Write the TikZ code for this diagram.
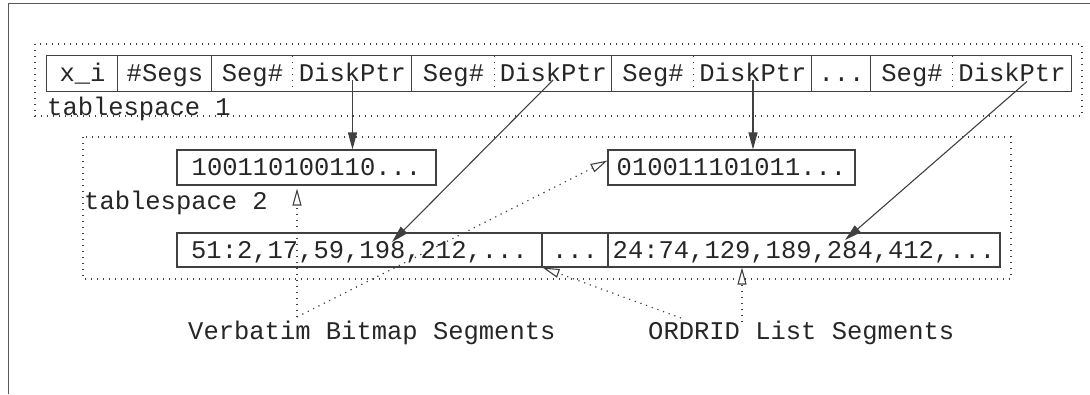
\documentclass[tikz,border=0pt]{standalone}
\usepackage{fontspec}
\setmainfont{Liberation Mono}
\usetikzlibrary{arrows.meta}
\begin{document}
\begin{tikzpicture}[x=1pt,y=-1pt,
  ln/.style={draw=black!75, line width=1.1pt},
  dots/.style={draw=black!75, line width=1.2pt, dash pattern=on 1.2pt off 4.8pt},
  txt/.style={inner sep=0pt, text=black!85, font=\fontsize{25.5}{30}\selectfont},
  cell/.style={txt, minimum height=35pt, text height=16pt, text depth=0pt},
  box/.style={cell, ln},
  ptr/.style={ln, -{Triangle[length=17pt,width=9pt]}},
  refarrow/.style={dots, -{Triangle[open,length=17pt,width=9pt,line width=1.1pt]}},
]
\useasboundingbox (0,0) rectangle (1090,394);
% outer frame
\draw[draw=black!65, line width=1pt] (8,394) -- (8,3) -- (1090,3);

% tablespace 1: the index entry
\draw[dots] (35,44) rectangle (1082,116);
\node[cell, minimum width=71pt]  (xi)   at (82.5,73.5)  {x\_i};
\node[cell, minimum width=94pt]  (segs) at (165,73.5)   {\#Segs};
\node[cell, minimum width=81pt]  (s1)   at (252.5,73.5) {Seg\#};
\node[cell, minimum width=119pt] (d1)   at (352.5,73.5) {DiskPtr};
\node[cell, minimum width=83pt]  (s2)   at (453.5,73.5) {Seg\#};
\node[cell, minimum width=117pt] (d2)   at (553.5,73.5) {DiskPtr};
\node[cell, minimum width=82pt]  (s3)   at (653,73.5)   {Seg\#};
\node[cell, minimum width=118pt] (d3)   at (753,73.5)   {DiskPtr};
\node[cell, minimum width=59pt]  (dd)   at (841.5,73.5) {...};
\node[cell, minimum width=82pt]  (s4)   at (912,73.5)   {Seg\#};
\node[cell, minimum width=118pt] (d4)   at (1012,73.5)  {DiskPtr};
\draw[ln] (xi.north west) rectangle (d4.south east);
\foreach \c in {segs,s1,s2,s3,dd,s4}
  \draw[ln] (\c.north west) -- (\c.south west);
\foreach \c in {d1,d2,d3,d4}
  \draw[dots] (\c.north west) -- (\c.south west);
\node[txt, anchor=base west] (ts1) at (47,115) {tablespace 1};

% tablespace 2: the segments
\draw[dots] (83,137) rectangle (1011,279);
\node[box, minimum width=259pt] (bm1) at (306.5,167.5) {100110100110...};
\node[box, minimum width=247pt] (bm2) at (731.5,167.5) {010011101011...};
\node[box, minimum width=365pt, minimum height=34pt] (l1) at (359.5,250) {51:2,17,59,198,212,...};
\node[box, minimum width=66pt,  minimum height=34pt] (l2) at (575,250)   {...};
\node[box, minimum width=392pt, minimum height=34pt] (l3) at (804,250)   {24:74,129,189,284,412,...};
\node[txt, anchor=base west] (ts2) at (84,209) {tablespace 2};

% disk pointers
\draw[ptr] ([yshift=-6.5pt]d1.center) -- (d1.center |- bm1.north);
\draw[ptr] ([xshift=-0.5pt,yshift=-6.5pt]d2.center) -- ([xshift=32.5pt,yshift=8pt]l1.center);
\draw[ptr] ([yshift=-6.5pt]d3.center) -- (d3.center |- bm2.north);
\draw[ptr] ([xshift=15pt,yshift=-8pt]d4.center) -- ([xshift=41pt,yshift=10pt]l3.center);

% legend
\node[txt, anchor=base west] (vbl) at (188,339) {Verbatim Bitmap Segments};
\node[txt, anchor=base west] (orl) at (648,339) {ORDRID List Segments};
\coordinate (vb) at (297,317);
\coordinate (oa) at (681,318);
\coordinate (ob) at (742,322);
\draw[refarrow, shorten >=3pt] (vb) -- (vb |- bm1.south);
\draw[refarrow] (vb) -- ([yshift=7pt]bm2.west);
\draw[refarrow] (oa) -- (l1.south east);
\draw[refarrow] (ob) -- (ob |- l3.south);
\end{tikzpicture}
\end{document}
